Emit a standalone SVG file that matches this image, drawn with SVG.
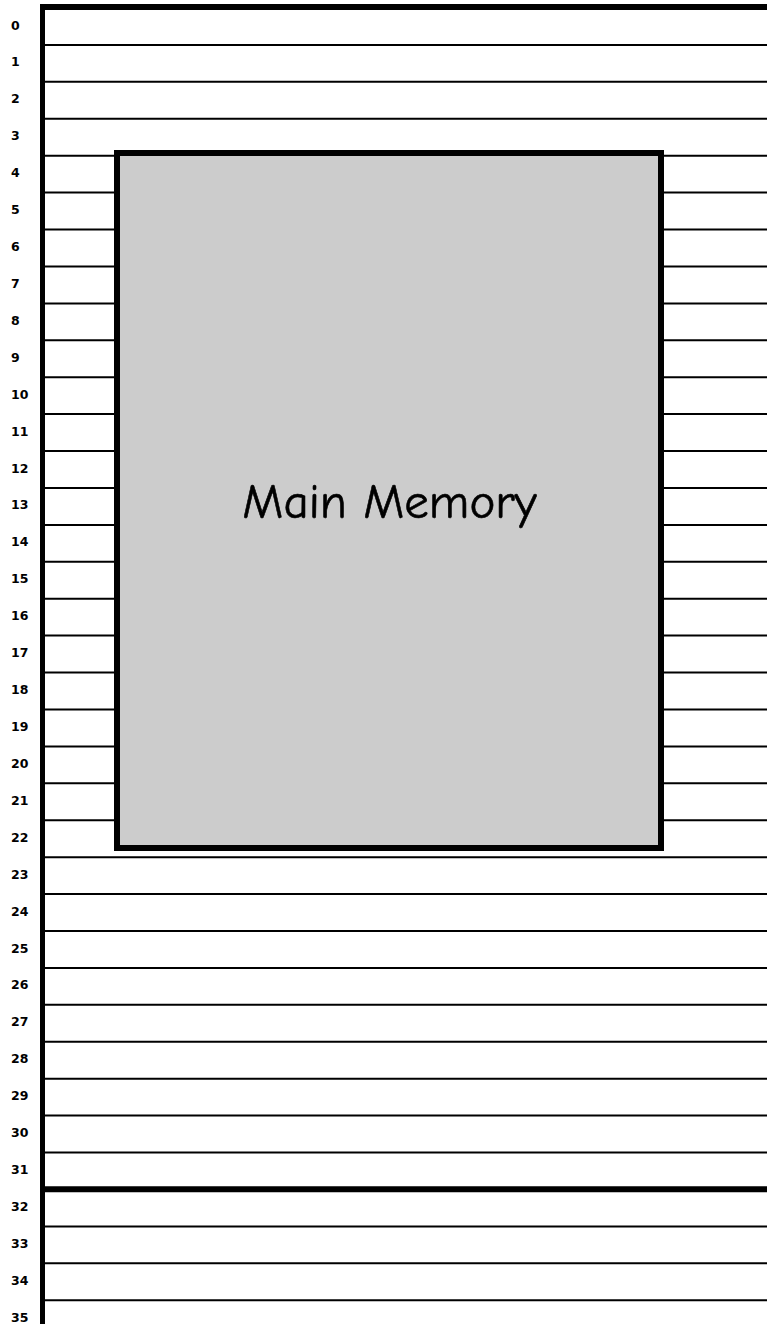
<svg xmlns="http://www.w3.org/2000/svg" width="767" height="1324" viewBox="0 0 767 1324">
<style>
.row{stroke:#000;stroke-width:2}
.thick{stroke:#000;stroke-width:6}
.lbl{font-family:"DejaVu Sans",Verdana,sans-serif;font-weight:bold;font-size:12.5px;fill:#000}
.mm{font-family:"Comic Sans MS","Comic Neue","Liberation Sans",sans-serif;font-size:49px;fill:#000;stroke:#000;stroke-width:0.6;text-anchor:middle}
</style>
<rect width="767" height="1324" fill="#fff"/>
<g id="rows">
<line class="row" x1="45" y1="44.9" x2="767" y2="44.9"/>
<line class="row" x1="45" y1="81.8" x2="767" y2="81.8"/>
<line class="row" x1="45" y1="118.8" x2="767" y2="118.8"/>
<line class="row" x1="45" y1="155.7" x2="767" y2="155.7"/>
<line class="row" x1="45" y1="192.6" x2="767" y2="192.6"/>
<line class="row" x1="45" y1="229.5" x2="767" y2="229.5"/>
<line class="row" x1="45" y1="266.4" x2="767" y2="266.4"/>
<line class="row" x1="45" y1="303.4" x2="767" y2="303.4"/>
<line class="row" x1="45" y1="340.3" x2="767" y2="340.3"/>
<line class="row" x1="45" y1="377.2" x2="767" y2="377.2"/>
<line class="row" x1="45" y1="414.1" x2="767" y2="414.1"/>
<line class="row" x1="45" y1="451.0" x2="767" y2="451.0"/>
<line class="row" x1="45" y1="488.0" x2="767" y2="488.0"/>
<line class="row" x1="45" y1="524.9" x2="767" y2="524.9"/>
<line class="row" x1="45" y1="561.8" x2="767" y2="561.8"/>
<line class="row" x1="45" y1="598.7" x2="767" y2="598.7"/>
<line class="row" x1="45" y1="635.6" x2="767" y2="635.6"/>
<line class="row" x1="45" y1="672.6" x2="767" y2="672.6"/>
<line class="row" x1="45" y1="709.5" x2="767" y2="709.5"/>
<line class="row" x1="45" y1="746.4" x2="767" y2="746.4"/>
<line class="row" x1="45" y1="783.3" x2="767" y2="783.3"/>
<line class="row" x1="45" y1="820.2" x2="767" y2="820.2"/>
<line class="row" x1="45" y1="857.2" x2="767" y2="857.2"/>
<line class="row" x1="45" y1="894.1" x2="767" y2="894.1"/>
<line class="row" x1="45" y1="931.0" x2="767" y2="931.0"/>
<line class="row" x1="45" y1="967.9" x2="767" y2="967.9"/>
<line class="row" x1="45" y1="1004.8" x2="767" y2="1004.8"/>
<line class="row" x1="45" y1="1041.8" x2="767" y2="1041.8"/>
<line class="row" x1="45" y1="1078.7" x2="767" y2="1078.7"/>
<line class="row" x1="45" y1="1115.6" x2="767" y2="1115.6"/>
<line class="row" x1="45" y1="1152.5" x2="767" y2="1152.5"/>
<line class="thick" x1="45" y1="1189.2" x2="767" y2="1189.2"/>
<line class="row" x1="45" y1="1226.4" x2="767" y2="1226.4"/>
<line class="row" x1="45" y1="1263.3" x2="767" y2="1263.3"/>
<line class="row" x1="45" y1="1300.2" x2="767" y2="1300.2"/>
<line stroke="#000" stroke-width="6" x1="40" y1="7" x2="767" y2="7"/>
<line stroke="#000" stroke-width="5" x1="42.5" y1="4" x2="42.5" y2="1324"/>
</g>
<g id="labels" class="lbl">
<text x="11" y="29.5">0</text>
<text x="11" y="66.4">1</text>
<text x="11" y="103.3">2</text>
<text x="11" y="140.2">3</text>
<text x="11" y="177.1">4</text>
<text x="11" y="214.1">5</text>
<text x="11" y="251.0">6</text>
<text x="11" y="287.9">7</text>
<text x="11" y="324.8">8</text>
<text x="11" y="361.7">9</text>
<text x="11" y="398.7">10</text>
<text x="11" y="435.6">11</text>
<text x="11" y="472.5">12</text>
<text x="11" y="509.4">13</text>
<text x="11" y="546.3">14</text>
<text x="11" y="583.3">15</text>
<text x="11" y="620.2">16</text>
<text x="11" y="657.1">17</text>
<text x="11" y="694.0">18</text>
<text x="11" y="730.9">19</text>
<text x="11" y="767.9">20</text>
<text x="11" y="804.8">21</text>
<text x="11" y="841.7">22</text>
<text x="11" y="878.6">23</text>
<text x="11" y="915.5">24</text>
<text x="11" y="952.5">25</text>
<text x="11" y="989.4">26</text>
<text x="11" y="1026.3">27</text>
<text x="11" y="1063.2">28</text>
<text x="11" y="1100.1">29</text>
<text x="11" y="1137.1">30</text>
<text x="11" y="1174.0">31</text>
<text x="11" y="1210.9">32</text>
<text x="11" y="1247.8">33</text>
<text x="11" y="1284.7">34</text>
<text x="11" y="1321.7">35</text>
</g>
<g id="main-memory">
<rect x="117" y="153" width="544" height="695" fill="#cccccc" stroke="#000" stroke-width="6"/>
<text class="mm" x="389.5" y="518">Main Memory</text>
</g>
</svg>
